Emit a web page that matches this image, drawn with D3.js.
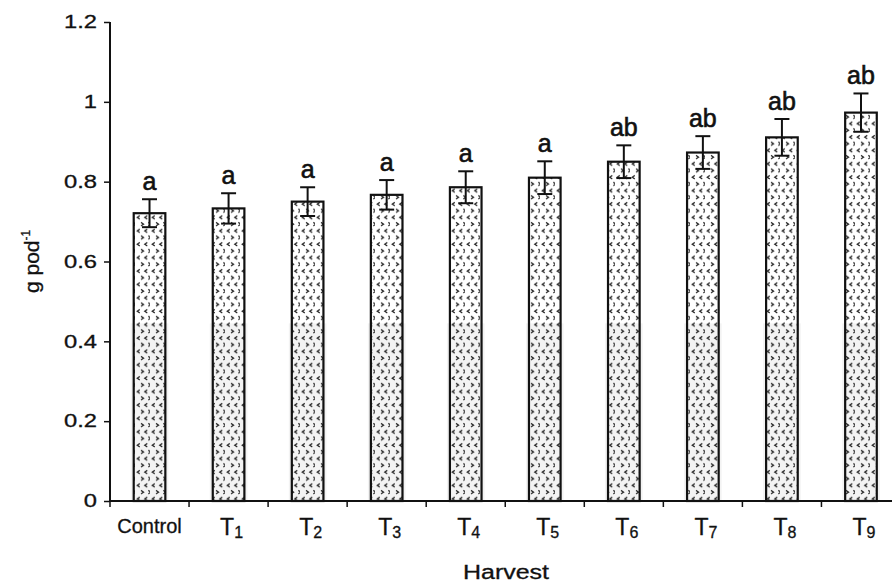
<!DOCTYPE html>
<html>
<head>
<meta charset="utf-8">
<script src="https://cdn.jsdelivr.net/npm/d3@7"></script>
<style>
  html, body { margin: 0; padding: 0; background: #fff; }
  svg { display: block; font-family: "Liberation Sans", Arial, sans-serif; }
</style>
</head>
<body>
<svg id="chart" width="892" height="586"></svg>
<script>
// data
const categories = ["Control", "T1", "T2", "T3", "T4", "T5", "T6", "T7", "T8", "T9"];
const means = [0.721, 0.733, 0.750, 0.767, 0.786, 0.810, 0.850, 0.873, 0.911, 0.973];
const errors = [0.035, 0.038, 0.036, 0.037, 0.040, 0.041, 0.041, 0.041, 0.046, 0.048];
const letters = ["a", "a", "a", "a", "a", "a", "ab", "ab", "ab", "ab"];
const yTicks = [0, 0.2, 0.4, 0.6, 0.8, 1, 1.2];

const svg = d3.select("#chart");
const x0 = 110, axisY = 501, topY = 22;
const ink = "#111";

const x = d3.scaleBand()
    .domain(categories)
    .range([x0, x0 + 790.5])
    .paddingInner(0.6)
    .paddingOuter(0.3);

const y = d3.scaleLinear()
    .domain([0, 1.2])
    .range([axisY, topY]);

// chevron fill pattern of the bars
const pat = svg.append("defs").append("pattern")
    .attr("id", "chev")
    .attr("patternUnits", "userSpaceOnUse")
    .attr("width", 15)
    .attr("height", 13.4);
const chevs = [
    {cx: 3.5, cy: 3, dir: -1}, {cx: 11, cy: 3, dir: -1},
    {cx: 7.3, cy: 9.7, dir: 1}, {cx: 14.6, cy: 9.7, dir: 1}
];
pat.selectAll("path")
    .data(chevs)
    .join("path")
    .attr("d", d => `M${d.cx - 1.3 * d.dir},${d.cy - 1.7} L${d.cx + 1.3 * d.dir},${d.cy} L${d.cx - 1.3 * d.dir},${d.cy + 1.7}`)
    .attr("fill", "none")
    .attr("stroke", "#2a2a2a")
    .attr("stroke-width", 1.2);

const rows = categories.map((c, i) => ({cat: c, mean: means[i], err: errors[i], letter: letters[i]}));
const bars = svg.append("g")
    .selectAll("g")
    .data(rows)
    .join("g");

bars.append("rect")
    .attr("x", d => x(d.cat))
    .attr("y", d => y(d.mean))
    .attr("width", x.bandwidth())
    .attr("height", d => axisY - y(d.mean))
    .attr("fill", "#fff");

// faint grey scan tint on the lower part of each bar column
bars.append("rect")
    .attr("x", d => x(d.cat) - 3)
    .attr("y", y(0.445))
    .attr("width", x.bandwidth() + 6)
    .attr("height", axisY - y(0.445))
    .attr("fill", "#f3f3f3");

bars.append("rect")
    .attr("x", d => x(d.cat))
    .attr("y", d => y(d.mean))
    .attr("width", x.bandwidth())
    .attr("height", d => axisY - y(d.mean))
    .attr("fill", "url(#chev)")
    .attr("stroke", ink)
    .attr("stroke-width", 2.2);

// error bars
const cx = d => x(d.cat) + x.bandwidth() / 2;
bars.append("line")
    .attr("x1", cx).attr("x2", cx)
    .attr("y1", d => y(d.mean - d.err))
    .attr("y2", d => y(d.mean + d.err))
    .attr("stroke", ink).attr("stroke-width", 2);
bars.selectAll(".cap")
    .data(d => [d.mean - d.err, d.mean + d.err].map(v => ({v: v, c: cx(d)})))
    .join("line")
    .attr("class", "cap")
    .attr("x1", d => d.c - 7.5).attr("x2", d => d.c + 7.5)
    .attr("y1", d => y(d.v)).attr("y2", d => y(d.v))
    .attr("stroke", ink).attr("stroke-width", 2);

// significance letters
bars.append("text")
    .attr("x", cx)
    .attr("y", d => y(d.mean + d.err) - 9)
    .attr("text-anchor", "middle")
    .attr("font-size", 25)
    .attr("fill", ink)
    .attr("stroke", ink)
    .attr("stroke-width", 0.6)
    .text(d => d.letter);

// y axis
const yAxis = svg.append("g")
    .attr("transform", `translate(${x0},0)`)
    .call(d3.axisLeft(y).tickValues(yTicks).tickSize(6).tickFormat(d3.format("~g")));
yAxis.select(".domain").attr("stroke", ink).attr("stroke-width", 2).attr("d", `M0,${topY}V${axisY}`);
yAxis.selectAll(".tick line").attr("stroke", ink).attr("stroke-width", 1.5);
yAxis.selectAll(".tick text")
    .attr("x", 0)
    .attr("transform", "translate(-13,0) scale(1.32,1)")
    .attr("font-size", 18)
    .attr("font-family", "Liberation Sans, Arial, sans-serif")
    .attr("fill", ink)
    .attr("stroke", ink)
    .attr("stroke-width", 0.3);

// x axis with ticks between the bars
const xAxis = svg.append("g");
xAxis.append("line")
    .attr("x1", x0).attr("x2", 892)
    .attr("y1", axisY).attr("y2", axisY)
    .attr("stroke", ink).attr("stroke-width", 2);
xAxis.selectAll(".xt")
    .data(categories.map(c => x(c) - x.step() * 0.3))
    .join("line")
    .attr("class", "xt")
    .attr("x1", d => d).attr("x2", d => d)
    .attr("y1", axisY).attr("y2", axisY + 6)
    .attr("stroke", ink).attr("stroke-width", 1.5);

const xl = xAxis.selectAll(".xl")
    .data(categories)
    .join("text")
    .attr("class", "xl")
    .attr("text-anchor", "middle")
    .attr("fill", ink)
    .attr("stroke", ink)
    .attr("stroke-width", 0.3);
xl.filter(d => d === "Control")
    .attr("x", d => x(d) + x.bandwidth() / 2)
    .attr("y", 533)
    .attr("font-size", 20)
    .text(d => d);
xl.filter(d => d !== "Control").each(function(d) {
    const t = d3.select(this)
        .attr("x", x(d) + x.bandwidth() / 2 + 3)
        .attr("y", 535)
        .attr("font-size", 23);
    t.append("tspan").text(d[0]);
    t.append("tspan").attr("font-size", 16).attr("dy", 3).text(d.slice(1));
});

// axis titles
svg.append("text")
    .attr("transform", "translate(506,579) scale(1.25,1)")
    .attr("text-anchor", "middle")
    .attr("font-size", 20)
    .attr("fill", ink)
    .attr("stroke", ink)
    .attr("stroke-width", 0.3)
    .text("Harvest");

const yl = svg.append("text")
    .attr("transform", "translate(39,293) rotate(-90)")
    .attr("text-anchor", "start")
    .attr("font-size", 21)
    .attr("fill", ink)
    .attr("stroke", ink)
    .attr("stroke-width", 0.3);
yl.append("tspan").text("g pod");
yl.append("tspan").attr("font-size", 12).attr("dy", -9).text("-1");
</script>
</body>
</html>
